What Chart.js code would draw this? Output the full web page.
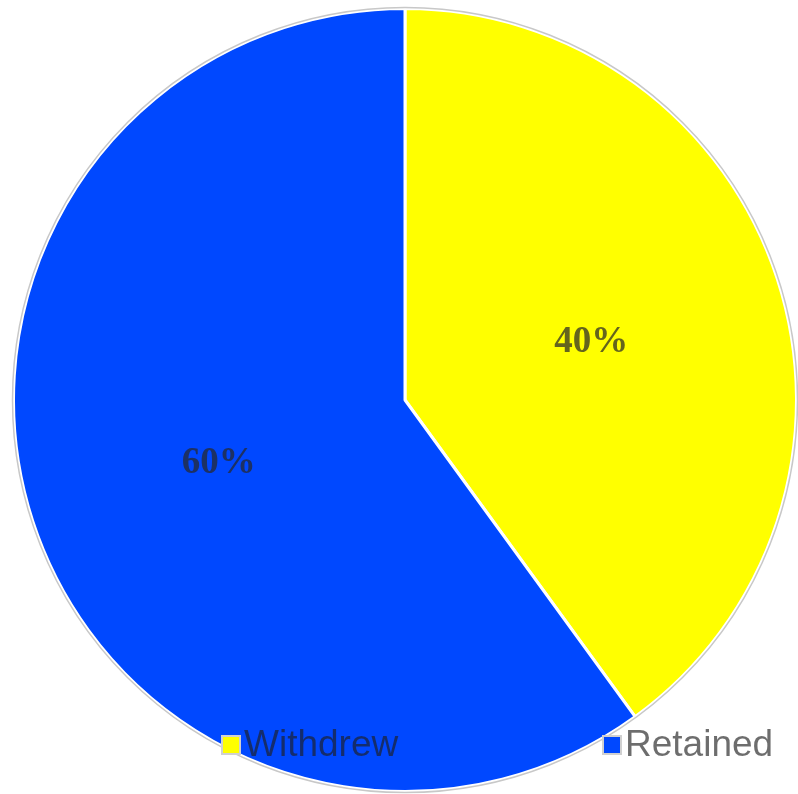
<!DOCTYPE html>
<html>
<head>
<meta charset="utf-8">
<script src="https://cdn.jsdelivr.net/npm/chart.js@4.4.0/dist/chart.umd.min.js"></script>
<style>
  html, body { margin: 0; padding: 0; background: #fff; }
  #wrap { width: 798px; height: 794px; }
</style>
</head>
<body>
<div id="wrap"><canvas id="myChart" width="798" height="794"></canvas></div>
<script>
const labels = ["Withdrew", "Retained"];
const values = [40, 60];
const colors = ["#ffff00", "#0048ff"];

// slice labels + outer ring
const overlay = {
    id: "overlay",
    afterDatasetsDraw(chart) {
        const ctx = chart.ctx;
        const meta = chart.getDatasetMeta(0);
        const total = values.reduce((a, b) => a + b, 0);
        ctx.save();
        // thin grey rim around the pie
        const a0 = meta.data[0];
        ctx.beginPath();
        ctx.arc(a0.x, a0.y, a0.outerRadius + 1, 0, Math.PI * 2);
        ctx.strokeStyle = "#c8c8c8";
        ctx.lineWidth = 1.5;
        ctx.stroke();

        ctx.font = "bold 37px 'Liberation Serif', 'DejaVu Serif', serif";
        ctx.fillStyle = "rgba(40,40,40,0.72)";
        ctx.textAlign = "center";
        ctx.textBaseline = "middle";
        meta.data.forEach((arc, i) => {
            const p = arc.tooltipPosition();
            ctx.fillText(Math.round(values[i] / total * 100) + "%", p.x, p.y + 3);
        });

        // legend drawn on top of the pie, as in the original
        const items = [{x: 222}, {x: 603}];
        ctx.font = "37px 'Liberation Sans', Arial, sans-serif";
        ctx.textAlign = "left";
        ctx.textBaseline = "middle";
        const y = 745;
        items.forEach((it, i) => {
            ctx.fillStyle = colors[i];
            ctx.fillRect(it.x, y - 9, 18, 18);
            ctx.strokeStyle = "#d0d0d0";
            ctx.lineWidth = 2;
            ctx.strokeRect(it.x, y - 9, 18, 18);
            ctx.fillStyle = "rgba(30,30,30,0.65)";
            ctx.fillText(labels[i], it.x + 22, y + 1);
        });
        ctx.restore();
    }
};

const ctx = document.getElementById('myChart');

new Chart(ctx, {
    type: "pie",
    data: {
        labels: labels,
        datasets: [{
            data: values,
            backgroundColor: colors,
            borderColor: "#ffffff",
            borderWidth: 3
        }]
    },
    options: {
        responsive: false,
        animation: false,
        layout: {
            padding: {left: 12, right: 0, top: 7, bottom: 1}
        },
        plugins: {
            legend: {display: false},
            tooltip: {enabled: false}
        }
    },
    plugins: [overlay]
});
</script>
</body>
</html>
